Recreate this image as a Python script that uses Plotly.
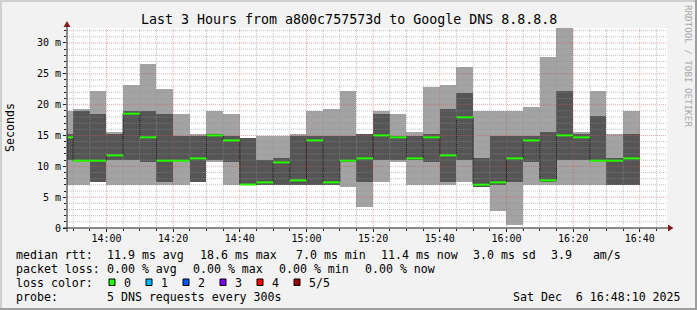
import plotly.graph_objects as go
import pandas as pd

# ---------------- data ----------------
DAY = "2025-12-06"
bucket_end = ["13:50", "13:55", "14:00", "14:05", "14:10", "14:15", "14:20", "14:25", "14:30", "14:35",
              "14:40", "14:45", "14:50", "14:55", "15:00", "15:05", "15:10", "15:15", "15:20", "15:25",
              "15:30", "15:35", "15:40", "15:45", "15:50", "15:55", "16:00", "16:05", "16:10", "16:15",
              "16:20", "16:25", "16:30", "16:35", "16:40"]
# five sorted pings per 5-minute bucket (ms)
rtt_min = [7.02, 7.00, 7.40, 7.02, 7.02, 7.02, 7.02, 7.02, 7.40, 10.64,
           7.02, 7.02, 7.02, 7.02, 7.02, 7.02, 7.02, 6.59, 3.35, 7.40,
           10.64, 7.02, 7.02, 7.02, 7.40, 6.59, 2.70, 0.54, 7.02, 7.02,
           7.02, 7.02, 7.02, 7.02, 7.02]
rtt_p2 = [10.97, 10.90, 7.40, 10.97, 10.97, 10.64, 7.40, 10.91, 7.40, 10.97,
          10.64, 7.02, 7.02, 7.02, 7.02, 7.02, 7.02, 10.64, 7.40, 10.97,
          10.97, 10.97, 10.64, 7.40, 10.97, 6.65, 7.02, 7.40, 10.64, 7.40,
          10.97, 10.97, 10.90, 7.02, 7.02]
rtt_median = [14.70, 10.91, 10.91, 11.78, 18.54, 14.70, 10.91, 10.91, 11.29, 15.02,
              14.21, 7.05, 7.40, 10.64, 7.72, 14.21, 7.40, 10.91, 11.29, 15.02,
              14.70, 11.29, 14.70, 11.78, 17.94, 7.02, 7.40, 11.29, 14.21, 7.72,
              15.02, 14.70, 10.91, 10.91, 11.29]
rtt_p4 = [15.29, 19.02, 18.54, 15.29, 19.02, 19.02, 18.54, 14.97, 14.97, 15.29,
          14.97, 14.64, 10.97, 11.29, 14.97, 14.97, 14.97, 14.97, 15.29, 18.54,
          14.97, 14.97, 15.29, 19.35, 21.94, 11.29, 14.97, 14.97, 14.97, 15.62,
          22.26, 15.29, 18.21, 11.29, 15.29]
rtt_max = [19.02, 19.35, 22.26, 15.62, 23.24, 26.64, 22.59, 18.54, 15.29, 19.02,
           18.54, 14.64, 14.97, 14.97, 15.29, 19.02, 19.35, 22.26, 15.29, 19.02,
           18.54, 15.62, 22.91, 23.24, 26.16, 19.02, 19.02, 19.02, 19.67, 27.67,
           32.43, 15.62, 22.26, 15.29, 19.02]

x_tick_labels = ["14:00", "14:20", "14:40", "15:00", "15:20", "15:40", "16:00", "16:20", "16:40"]
y_tick_values = [0, 5, 10, 15, 20, 25, 30]
y_tick_labels = ["0", "5 m", "10 m", "15 m", "20 m", "25 m", "30 m"]

title_text = "Last 3 Hours from a800c757573d to Google DNS 8.8.8.8"
row1_texts = ["median rtt:", "11.9 ms avg", "18.6 ms max", "7.0 ms min", "11.4 ms now", "3.0 ms sd", "3.9   am/s"]
row2_texts = ["packet loss:", "0.00 % avg", "0.00 % max", "0.00 % min", "0.00 % now"]
row3_label = "loss color:"
loss_labels = ["0", "1", "2", "3", "4", "5/5"]
loss_colors = ["#26ff00", "#00b8ff", "#0059ff", "#7e00ff", "#ff0000", "#a00000"]
row4_texts = ["probe:", "5 DNS requests every 300s"]
date_text = "Sat Dec  6 16:48:10 2025"

# ---------------- geometry ----------------
W, H = 697, 310
L, R, T, B = 67, 30, 28, 82
PW, PH = W - L - R, H - T - B
FONT = "DejaVu Sans Mono"
X_START, X_END = f"{DAY} 13:48:10", f"{DAY} 16:48:10"
Y_TOP = 32.43


def px(x):
    return (x - L) / PW


def py(y):
    return (H - B - y) / PH


def nb(s):
    return s.replace(" ", "\u00a0")


ends = pd.to_datetime([f"{DAY} {t}" for t in bucket_end])
starts = ends - pd.Timedelta(minutes=5)
centers = ends - pd.Timedelta(seconds=150)
fmt = lambda d: d.strftime("%Y-%m-%d %H:%M:%S")
c_str = [fmt(d) for d in centers]
s_str = [fmt(d) for d in starts]
e_str = [fmt(d) for d in ends]

fig = go.Figure()

# smoke: outer (min..max) light, inner (p2..p4) dark
fig.add_trace(go.Bar(x=c_str, y=[b - a for a, b in zip(rtt_min, rtt_max)], base=rtt_min,
                     width=300000, marker=dict(color="#a3a3a3", line=dict(width=0)),
                     hoverinfo="skip"))
fig.add_trace(go.Bar(x=c_str, y=[b - a for a, b in zip(rtt_p2, rtt_p4)], base=rtt_p2,
                     width=300000, marker=dict(color="#555555", line=dict(width=0)),
                     hoverinfo="skip"))

# median thin step line
fig.add_trace(go.Scatter(x=s_str + [e_str[-1]], y=rtt_median + [rtt_median[-1]], mode="lines",
                         line=dict(color="#1a1a1a", width=1, shape="hv"), hoverinfo="skip"))

# grid (drawn above smoke like rrdtool)
grid_times = pd.date_range(f"{DAY} 13:50", f"{DAY} 16:45", freq="5min")
minx, miny, majx, majy = [], [], [], []
for t in grid_times:
    if t.minute % 20 == 0:
        majx += [fmt(t), fmt(t), None]
        majy += [0, Y_TOP, None]
    else:
        minx += [fmt(t), fmt(t), None]
        miny += [0, Y_TOP, None]
for v in range(1, 33):
    if v % 5 == 0:
        majx += [X_START, X_END, None]
        majy += [v, v, None]
    else:
        minx += [X_START, X_END, None]
        miny += [v, v, None]
fig.add_trace(go.Scatter(x=minx, y=miny, mode="lines", hoverinfo="skip",
                         line=dict(color="rgba(143,143,143,0.55)", width=1, dash="1px,1px")))
fig.add_trace(go.Scatter(x=majx, y=majy, mode="lines", hoverinfo="skip",
                         line=dict(color="rgba(222,79,79,0.5)", width=1, dash="1px,1px")))

# green median segments (loss 0)
gx, gy = [], []
for s, e, m in zip(s_str, e_str, rtt_median):
    gx += [s, e, None]
    gy += [m, m, None]
fig.add_trace(go.Scatter(x=gx, y=gy, mode="lines", hoverinfo="skip",
                         line=dict(color=loss_colors[0], width=2)))

# ---------------- decorations ----------------
shapes = []
shade_a, shade_b = "#cfcfcf", "#9e9e9e"
for (x0, y0, x1, y1, c) in [(0, 0, W, 2, shade_a), (0, 0, 2, H, shade_a),
                            (W - 2, 0, W, H, shade_b), (0, H - 2, W, H, shade_b)]:
    shapes.append(dict(type="rect", xref="paper", yref="paper", x0=px(x0), x1=px(x1),
                       y0=py(y0), y1=py(y1), fillcolor=c, line=dict(width=0), layer="below"))
axis_c = "#1f1f1f"
arrow_c = "#801f1f"
shapes.append(dict(type="line", xref="paper", yref="paper", x0=px(63), x1=px(669), y0=0, y1=0,
                   line=dict(color=axis_c, width=1)))
shapes.append(dict(type="line", xref="paper", yref="paper", x0=0, x1=0, y0=py(232), y1=py(25),
                   line=dict(color=axis_c, width=1)))
shapes.append(dict(type="path", xref="paper", yref="paper",
                   path=f"M {px(668)} {py(224.5)} L {px(673.5)} {py(228)} L {px(668)} {py(231.5)} Z",
                   fillcolor=arrow_c, line=dict(width=0)))
shapes.append(dict(type="path", xref="paper", yref="paper",
                   path=f"M {px(63.5)} {py(27)} L {px(67)} {py(21)} L {px(70.5)} {py(27)} Z",
                   fillcolor=arrow_c, line=dict(width=0)))
sq_left = [109 + 37 * k for k in range(len(loss_colors))]
for xl, c in zip(sq_left, loss_colors):
    shapes.append(dict(type="rect", xref="paper", yref="paper", x0=px(xl), x1=px(xl + 6),
                       y0=py(279), y1=py(285.5), fillcolor=c, line=dict(color="#000000", width=1)))

ann = []


def text(x, y, s, size=11.6, anchor="left", color="#000000", angle=0, yanchor="middle"):
    ann.append(dict(x=px(x), y=py(y), xref="paper", yref="paper", text=nb(s), showarrow=False,
                    xanchor=anchor, yanchor=yanchor, textangle=angle, borderpad=0, borderwidth=0,
                    font=dict(family=FONT, size=size, color=color)))


text(348.5, 19, title_text, size=13.3, anchor="center")
text(10, 128, "Seconds", size=11.6, anchor="center", angle=-90)
text(688, 66, "RRDTOOL / TOBI OETIKER", size=9.2, anchor="center", angle=90, color="#a8a8a8")
row1_x = [16, 107, 200, 296, 381, 473, 551]
for xx, s in zip(row1_x, row1_texts):
    text(xx, 254.5, s)
row2_x = [16, 107, 193, 279, 365]
for xx, s in zip(row2_x, row2_texts):
    text(xx, 268.5, s)
text(16, 282.5, row3_label)
for xl, s in zip(sq_left, loss_labels):
    text(xl + 15, 282.5, s)
row4_x = [16, 107]
for xx, s in zip(row4_x, row4_texts):
    text(xx, 296.5, s)
text(680.5, 296.5, date_text, anchor="right")

x_tick_vals = [f"{DAY} {t}" for t in x_tick_labels]

fig.update_layout(
    width=W, height=H, margin=dict(l=L, r=R, t=T, b=B, pad=0),
    paper_bgcolor="#f2f2f2", plot_bgcolor="#ffffff",
    barmode="overlay", bargap=0, showlegend=False,
    shapes=shapes, annotations=ann,
    xaxis=dict(type="date", range=[X_START, X_END], showgrid=False, zeroline=False, showline=False,
               tickvals=x_tick_vals, ticktext=x_tick_labels, ticks="outside", ticklen=3,
               tickcolor=axis_c, tickwidth=1, ticklabelstandoff=-2,
               tickfont=dict(family=FONT, size=10, color="#000000"),
               minor=dict(dtick=300000, tick0=f"{DAY} 13:50", ticks="outside", ticklen=2,
                          tickcolor=axis_c, showgrid=False)),
    yaxis=dict(range=[0, Y_TOP], showgrid=False, zeroline=False, showline=False,
               tickvals=y_tick_values, ticktext=y_tick_labels, ticks="outside", ticklen=3,
               tickcolor=axis_c, tickwidth=1,
               tickfont=dict(family=FONT, size=10, color="#000000"),
               minor=dict(dtick=1, ticks="outside", ticklen=2, tickcolor=axis_c, showgrid=False)),
)

fig.write_html("out.html")
